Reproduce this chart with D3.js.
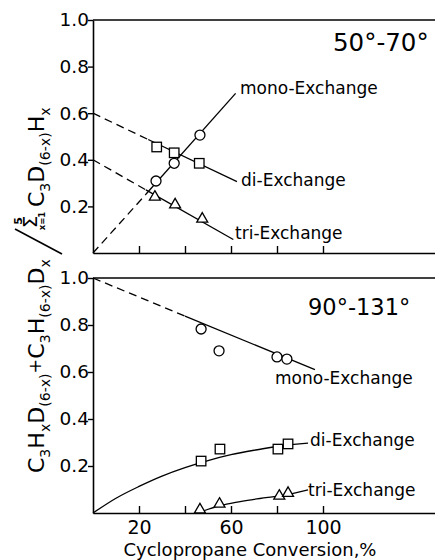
<!DOCTYPE html>
<html><head><meta charset="utf-8">
<script src="https://cdn.jsdelivr.net/npm/d3@7"></script>
<style>
html,body{margin:0;padding:0;background:#fff;}
svg{display:block;}
text{font-family:"DejaVu Sans",sans-serif;fill:#000;}
</style></head>
<body>
<svg id="chart" width="435" height="560"></svg>
<script>
// ---------- DATA ----------
const xTicks = [20, 40, 60, 80, 100];
const xTickLabels = [20, 60, 100];
const yTicks = [0.2, 0.4, 0.6, 0.8, 1.0];
const yTickLabels = ["0.2", "0.4", "0.6", "0.8", "1.0"];

// Top panel: 50°-70°
const topMonoX = [27.4, 35.3, 46.5];
const topMonoY = [0.309, 0.385, 0.506];
const topDiX = [27.7, 35.3, 46.2];
const topDiY = [0.455, 0.43, 0.385];
const topTriX = [26.9, 35.7, 47.5];
const topTriY = [0.236, 0.203, 0.142];
// fitted lines: dashed extrapolation then solid
const topMonoDashX = [0, 23], topMonoDashY = [0, 0.252];
const topMonoLineX = [23, 62], topMonoLineY = [0.252, 0.685];
const topDiDashX = [0, 24], topDiDashY = [0.6, 0.487];
const topDiLineX = [24, 62.6], topDiLineY = [0.487, 0.306];
const topTriDashX = [0, 23], topTriDashY = [0.4, 0.271];
const topTriLineX = [23, 61], topTriLineY = [0.271, 0.058];

// Bottom panel: 90°-131°
const botMonoX = [47, 54.8, 80, 84.3];
const botMonoY = [0.783, 0.69, 0.664, 0.655];
const botDiX = [47, 55.2, 80.4, 84.8];
const botDiY = [0.221, 0.272, 0.272, 0.294];
const botTriX = [46.5, 55, 81, 84.8];
const botTriY = [0.01, 0.034, 0.068, 0.08];
const botMonoDashX = [0, 40], botMonoDashY = [1.0, 0.838];
const botMonoLineX = [40, 96.5], botMonoLineY = [0.838, 0.61];
const botDiCurveX = [0, 10, 20, 30, 40, 50, 60, 70, 80, 84.8];
const botDiCurveY = [0, 0.063, 0.113, 0.157, 0.193, 0.223, 0.248, 0.267, 0.283, 0.29];
const botDiLeadX = [84.8, 93.5], botDiLeadY = [0.29, 0.297];
const botTriCurveX = [47, 55, 62, 70, 78, 84.8];
const botTriCurveY = [0.006, 0.03, 0.045, 0.058, 0.069, 0.078];
const botTriLeadX = [84.8, 93.5], botTriLeadY = [0.078, 0.098];

const topTitle = "50°-70°";
const botTitle = "90°-131°";
const seriesNames = ["mono-Exchange", "di-Exchange", "tri-Exchange"];
const xAxisTitle = "Cyclopropane Conversion,%";

// ---------- LAYOUT ----------
const svg = d3.select("#chart");
const x = d3.scaleLinear().domain([0, 150]).range([93, 438]);
const yTop = d3.scaleLinear().domain([0, 1]).range([253, 20]);
const yBot = d3.scaleLinear().domain([0, 1]).range([513, 278]);

const zip = (a, b) => a.map((v, i) => [v, b[i]]);

function panel(y, withLabels) {
  const g = svg.append("g");
  const xa = d3.axisBottom(x).tickValues(xTicks).tickSize(-7).tickSizeOuter(0)
    .tickFormat(d => (withLabels && xTickLabels.includes(d)) ? d : "");
  const gx = g.append("g").attr("transform", `translate(0,${y(0)})`).call(xa);
  gx.select(".domain").attr("stroke-width", 1.6);
  gx.selectAll(".tick line").attr("stroke-width", 1.4);
  gx.selectAll(".tick text").attr("font-size", 19).attr("dy", "0.95em");
  const ya = d3.axisLeft(y).tickValues(yTicks).tickSize(5).tickSizeOuter(0)
    .tickFormat((d, i) => yTickLabels[i]);
  const gy = g.append("g").attr("transform", `translate(${x(0)},0)`).call(ya);
  gy.select(".domain").attr("stroke-width", 1.6);
  gy.selectAll(".tick line").attr("stroke-width", 1.4);
  gy.selectAll(".tick text").attr("font-size", 18.5).attr("x", -4);
  g.append("line").attr("x1", x(0)).attr("x2", 435).attr("y1", y(1)).attr("y2", y(1))
    .attr("stroke", "#000").attr("stroke-width", 1.4);
  return g;
}

function line(g, y, xs, ys, dashed, curve) {
  const gen = d3.line().x(d => x(d[0])).y(d => y(d[1]));
  if (curve) gen.curve(d3.curveMonotoneX);
  g.append("path").attr("d", gen(zip(xs, ys))).attr("fill", "none")
    .attr("stroke", "#000").attr("stroke-width", 1.3)
    .attr("stroke-dasharray", dashed ? "8,5" : null);
}
function circles(g, y, xs, ys) {
  g.selectAll(null).data(zip(xs, ys)).enter().append("circle")
    .attr("cx", d => x(d[0])).attr("cy", d => y(d[1])).attr("r", 5)
    .attr("fill", "#fff").attr("stroke", "#000").attr("stroke-width", 1.3);
}
function squares(g, y, xs, ys) {
  const s = 9.5;
  g.selectAll(null).data(zip(xs, ys)).enter().append("rect")
    .attr("x", d => x(d[0]) - s / 2).attr("y", d => y(d[1]) - s / 2)
    .attr("width", s).attr("height", s)
    .attr("fill", "#fff").attr("stroke", "#000").attr("stroke-width", 1.3);
}
function triangles(g, y, xs, ys) {
  const sym = d3.symbol().type(d3.symbolTriangle).size(52);
  g.selectAll(null).data(zip(xs, ys)).enter().append("path")
    .attr("d", sym).attr("transform", d => `translate(${x(d[0])},${y(d[1]) - 1})`)
    .attr("fill", "#fff").attr("stroke", "#000").attr("stroke-width", 1.3);
}
function label(g, xp, yp, txt, size) {
  g.append("text").attr("x", xp).attr("y", yp).attr("font-size", size)
    .attr("dominant-baseline", "central").text(txt);
}

// ----- top panel -----
const gT = panel(yTop, false);
line(gT, yTop, topMonoDashX, topMonoDashY, true);
line(gT, yTop, topMonoLineX, topMonoLineY, false);
line(gT, yTop, topDiDashX, topDiDashY, true);
line(gT, yTop, topDiLineX, topDiLineY, false);
line(gT, yTop, topTriDashX, topTriDashY, true);
line(gT, yTop, topTriLineX, topTriLineY, false);
squares(gT, yTop, topDiX, topDiY);
circles(gT, yTop, topMonoX, topMonoY);
triangles(gT, yTop, topTriX, topTriY);
label(gT, 240, 88, seriesNames[0], 17);
label(gT, 241, 180, seriesNames[1], 17);
label(gT, 235, 233, seriesNames[2], 17);
label(gT, 333, 42, topTitle, 24.5);

// ----- bottom panel -----
const gB = panel(yBot, true);
line(gB, yBot, botMonoDashX, botMonoDashY, true);
line(gB, yBot, botMonoLineX, botMonoLineY, false);
line(gB, yBot, botDiCurveX, botDiCurveY, false, true);
line(gB, yBot, botDiLeadX, botDiLeadY, false);
line(gB, yBot, botTriCurveX, botTriCurveY, false, true);
line(gB, yBot, botTriLeadX, botTriLeadY, false);
circles(gB, yBot, botMonoX, botMonoY);
squares(gB, yBot, botDiX, botDiY);
triangles(gB, yBot, botTriX, botTriY);
label(gB, 275, 378, seriesNames[0], 17);
label(gB, 310, 440, seriesNames[1], 17);
label(gB, 308, 490, seriesNames[2], 17);
label(gB, 308, 307, botTitle, 22.5);

// x axis title
svg.append("text").attr("x", 250).attr("y", 549).attr("text-anchor", "middle")
  .attr("dominant-baseline", "central").attr("font-size", 18).text(xAxisTitle);

// ----- y axis label (rotated, composed) -----
const gl = svg.append("g").attr("transform", "rotate(-90)");
function composed(u, v, parts, size) {
  const t = gl.append("text").attr("x", u).attr("y", v).attr("font-size", size);
  let cur = 0;
  parts.forEach(([s, k]) => {
    const off = k === "sub" ? 6 : (k === "sup" ? -3 : 0);
    t.append("tspan").attr("dy", off - cur)
      .attr("font-size", k === "sub" ? size * 0.64 : (k === "sup" ? size * 0.8 : size)).text(s);
    cur = off;
  });
  return t;
}
composed(-473, 44, [["C"], ["3", "sub"], ["H"], ["x", "sub"], ["D"], ["(6-x)", "sub"],
  ["+", "sup"], ["C"], ["3", "sub"], ["H"], ["(6-x)", "sub"], ["D"], ["x", "sub"]], 22);
composed(-207, 44, [["C"], ["3", "sub"], ["D"], ["(6-x)", "sub"], ["H"], ["x", "sub"]], 22);
gl.append("text").attr("x", -222).attr("y", 37).attr("text-anchor", "middle")
  .attr("font-size", 20).text("Σ");
gl.append("text").attr("x", -221).attr("y", 22).attr("text-anchor", "middle")
  .attr("font-size", 11).attr("font-weight", "bold").text("5");
gl.append("text").attr("x", -221).attr("y", 45).attr("text-anchor", "middle")
  .attr("font-size", 8.5).attr("font-weight", "bold").text("x=1");
svg.append("line").attr("x1", 15).attr("y1", 229).attr("x2", 62).attr("y2", 254)
  .attr("stroke", "#000").attr("stroke-width", 1.6);
</script>
</body></html>
